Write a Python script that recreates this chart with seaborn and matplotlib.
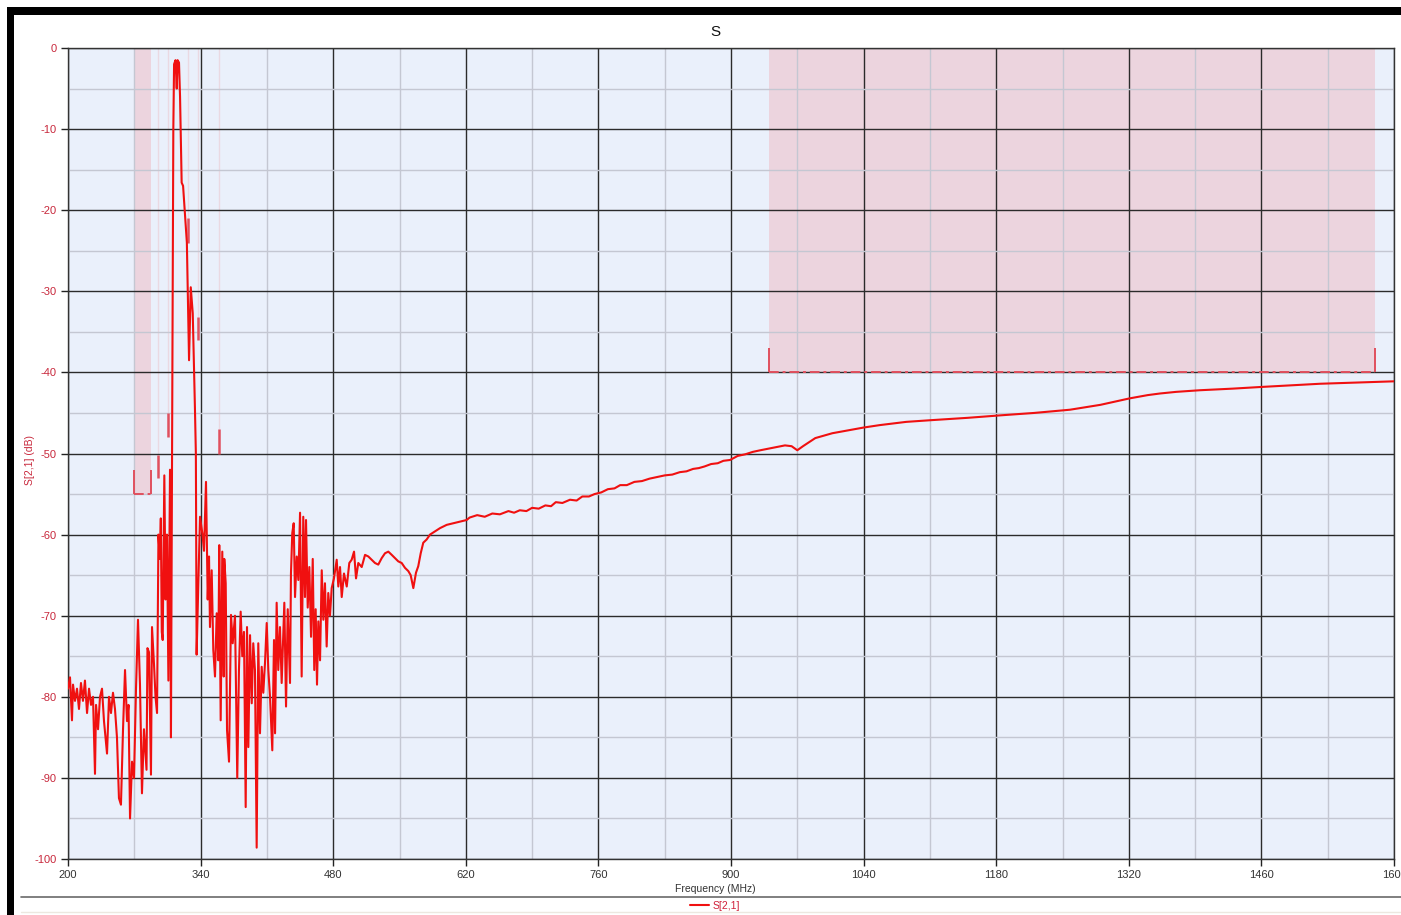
"""S[2,1] sweep with limit masks, redrawn from an analyser screenshot."""
import matplotlib
matplotlib.use("Agg")
import matplotlib.pyplot as plt
from matplotlib.lines import Line2D
from matplotlib.patches import Rectangle
import pandas as pd
import seaborn as sns

# trace (MHz, dB)
freq_mhz = [
    200, 202.1, 204.2, 205.3, 207.4, 209.5, 211.6, 213.7, 215.8, 217.9,
    220.1, 222.2, 224.3, 226.4, 228.5, 229.6, 231.7, 233.8, 235.9, 238.0,
    241.2, 243.3, 245.4, 247.5, 249.6, 251.7, 253.8, 255.9, 258.1, 260.2,
    262.3, 263.9, 265.5, 267.6, 269.7, 271.8, 273.9, 276.0, 278.1, 280.2,
    281.3, 282.9, 283.9, 285.5, 287.6, 288.7, 290.8, 292.4, 294.0, 295.5,
    297.0, 298.0, 299.0, 300.0, 301.7, 303.0, 304.5, 306.0, 307.7, 308.7,
    311.2, 312.0, 313.5, 314.8, 315.7, 317.2, 318.3, 320.0, 321.5, 325.5,
    327.8, 329.6, 331.7, 334.0, 335.0, 335.8, 337.6, 339.4, 342.0, 343.6,
    345.7, 347.5, 348.9, 349.9, 351.7, 353.4, 355.2, 357.0, 358.7, 359.7,
    361.2, 362.9, 364.4, 365.0, 366.5, 367.9, 370.0, 372.1, 373.9, 376.3,
    378.7, 380.5, 382.3, 384.0, 385.8, 387.6, 389.0, 390.4, 392.2, 394.0,
    395.6, 397.4, 399.2, 400.9, 402.7, 404.5, 406.2, 408.0, 409.8, 411.5,
    413.3, 415.7, 417.5, 418.6, 420.3, 422.0, 423.8, 425.6, 428.4, 430.2,
    432.0, 434.4, 435.4, 436.8, 438.3, 439.7, 441.5, 443.2, 445.0, 446.7,
    448.4, 450.2, 451.3, 453.1, 454.8, 456.6, 458.4, 460.0, 461.5, 462.9,
    464.3, 466.1, 467.9, 469.6, 471.3, 473.1, 474.8, 476.6, 478.4, 480.8,
    483.7, 485.4, 487.2, 489.0, 491.4, 494.3, 497.0, 499.5, 502.0, 504.1,
    506.5, 510.1, 513.6, 517.1, 520.6, 524.1, 527.6, 531.2, 534.7, 538.2,
    541.8, 545.2, 548.7, 552.3, 555.8, 559.3, 561.8, 564.6, 567.4, 569.8,
    572.4, 575.1, 578.7, 582.2, 587.5, 592.8, 599.8, 606.8, 613.9, 620.9,
    624, 632, 640, 648, 656, 665, 671, 677, 684, 690,
    697, 704, 710, 715, 722, 730, 737, 743, 750, 756,
    763, 770, 777, 783, 790, 798, 806, 814, 822, 830,
    838, 846, 853, 860, 866, 872, 879, 886, 892, 899,
    907, 915, 923, 931, 944, 957, 964, 970, 976, 989,
    1007, 1026, 1040, 1057, 1085, 1110, 1150, 1184, 1220, 1258,
    1290, 1321, 1340, 1353, 1370, 1395, 1430, 1459, 1490, 1522,
    1560, 1600,
]
s21_db = [
    -79.0, -77.6, -82.9, -78.5, -80.5, -79.0, -81.5, -78.3, -80.5, -78.0,
    -82.0, -79.0, -81.0, -80.0, -89.5, -81.0, -84.0, -80.0, -79.0, -83.0,
    -87.0, -80.0, -82.0, -79.5, -81.5, -85.0, -92.5, -93.3, -84.0, -76.7,
    -83.0, -81.0, -95.0, -88.0, -90.0, -79.0, -70.5, -78.5, -91.9, -84.0,
    -86.0, -89.0, -74.0, -74.5, -89.6, -71.4, -76.0, -80.0, -82.0, -60.0,
    -63.0, -58.0, -72.0, -73.0, -52.7, -68.0, -60.0, -78.0, -52.0, -85.0,
    -10.0, -2.0, -1.5, -5.0, -1.5, -1.8, -6.0, -16.6, -17.0, -24.0,
    -38.5, -29.5, -32.7, -44.3, -50.0, -74.8, -66.0, -57.8, -60.0, -62.0,
    -53.5, -68.0, -62.7, -71.4, -64.4, -74.2, -77.5, -69.7, -75.5, -61.3,
    -82.9, -62.1, -77.5, -63.0, -66.0, -84.1, -88.0, -69.9, -73.4, -70.0,
    -90.0, -76.7, -69.5, -75.0, -72.0, -93.6, -71.4, -86.2, -72.4, -80.8,
    -73.4, -76.7, -98.6, -73.4, -84.5, -76.3, -79.5, -75.8, -70.9, -76.7,
    -80.0, -86.6, -73.0, -84.5, -68.4, -76.7, -71.4, -78.3, -68.4, -81.2,
    -69.2, -78.3, -64.8, -59.8, -58.6, -67.7, -62.7, -65.6, -57.3, -77.5,
    -57.8, -67.7, -58.2, -69.0, -64.0, -72.6, -63.0, -76.7, -69.2, -78.5,
    -70.7, -75.5, -64.4, -70.5, -66.0, -73.8, -67.2, -70.0, -66.6, -65.4,
    -63.1, -66.4, -64.0, -67.7, -64.8, -66.4, -63.5, -63.1, -62.1, -65.4,
    -63.5, -64.0, -62.5, -62.7, -63.1, -63.5, -63.7, -62.9, -62.3, -62.1,
    -62.5, -62.9, -63.3, -63.5, -64.1, -64.5, -65.0, -66.6, -64.7, -63.9,
    -62.3, -61.0, -60.6, -60.0, -59.6, -59.2, -58.8, -58.6, -58.4, -58.2,
    -57.9, -57.6, -57.8, -57.4, -57.5, -57.1, -57.3, -57.0, -57.1, -56.7,
    -56.8, -56.4, -56.5, -56.0, -56.1, -55.7, -55.8, -55.3, -55.3, -55.0,
    -54.8, -54.4, -54.3, -53.9, -53.9, -53.5, -53.4, -53.1, -52.9, -52.7,
    -52.6, -52.3, -52.2, -51.9, -51.8, -51.6, -51.3, -51.2, -50.9, -50.8,
    -50.3, -50.1, -49.8, -49.6, -49.3, -49.0, -49.1, -49.6, -49.1, -48.1,
    -47.5, -47.1, -46.8, -46.5, -46.1, -45.9, -45.6, -45.3, -45.0, -44.6,
    -44.0, -43.2, -42.8, -42.6, -42.4, -42.2, -42.0, -41.8, -41.6, -41.4,
    -41.25, -41.1,
]

# limit masks: band start / stop (MHz) and the limit level (dB)
mask_start = [270, 940]
mask_stop = [288, 1580]
mask_level = [-55, -40]

# narrow spot limits (single frequency, short limit mark)
spot_mhz = [295, 305.6, 326.7, 337.6, 359.4]
spot_top = [-50.2, -45.0, -21.0, -33.2, -47.0]
spot_bottom = [-53.0, -48.0, -24.0, -36.0, -50.0]

x_ticks = [200, 340, 480, 620, 760, 900, 1040, 1180, 1320, 1460, 1600]
y_ticks = [0, -10, -20, -30, -40, -50, -60, -70, -80, -90, -100]

W, H = 1401, 915
RED = "#f01010"
MASK_RED = "#e0505e"
PINK = "#ecd4de"

sns.set_style("white", {"axes.facecolor": "#eaf0fb"})
plt.rcParams["font.family"] = ["Liberation Sans", "DejaVu Sans"]

fig = plt.figure(figsize=(W / 100, H / 100), dpi=100)
ax = fig.add_axes([68 / W, 1 - 859 / H, (1394 - 68) / W, (859 - 48) / H])

df = pd.DataFrame({"freq": freq_mhz, "s21": s21_db})

# mask areas and their limit lines
for start, stop, level in zip(mask_start, mask_stop, mask_level):
    ax.fill_between([start, stop], level, 0, color=PINK, lw=0, zorder=0.4)
    ax.hlines(level, start, stop, color=MASK_RED, lw=1.4,
              linestyles=[(0, (5, 2, 1.5, 2))], zorder=2)
    ax.vlines([start, stop], level, level + 3, color=MASK_RED, lw=1.4, zorder=2)

ax.vlines(spot_mhz, spot_top, 0, color="#ead9e2", lw=1, zorder=0.45)
ax.vlines(spot_mhz, spot_bottom, spot_top, color=MASK_RED, lw=1.8, zorder=2)

sns.lineplot(data=df, x="freq", y="s21", ax=ax, color=RED, lw=1.5,
             sort=False, estimator=None, label="S[2,1]", zorder=3)

ax.set_xlim(200, 1600)
ax.set_ylim(-100, 0)
ax.set_xticks(x_ticks)
ax.set_xticklabels([str(t) for t in x_ticks])
ax.set_yticks(y_ticks)
ax.set_yticklabels([str(t) for t in y_ticks])
ax.set_xticks([t + 70 for t in x_ticks[:-1]], minor=True)
ax.set_yticks(range(-95, 0, 10), minor=True)

ax.grid(which="major", color="#2b2b2b", lw=1)
ax.grid(which="minor", color="#c4c7d2", lw=1)
ax.set_axisbelow(True)

ax.tick_params(which="major", bottom=True, left=True, direction="out",
               length=5, width=1, color="#222222", labelsize=8, pad=3)
ax.tick_params(which="minor", bottom=False, left=False, length=0)
ax.tick_params(axis="x", labelcolor="#333333")
ax.tick_params(axis="y", labelcolor="#c8283c")
for spine in ax.spines.values():
    spine.set_color("#333333")
    spine.set_linewidth(1)

ax.set_xlabel("Frequency (MHz)", fontsize=7.5, color="#333333")
ax.xaxis.set_label_coords((715 - 68) / (1394 - 68), (859 - 884) / (859 - 48))
ax.set_ylabel("S[2,1] (dB)", fontsize=7.5, color="#c8283c")
ax.yaxis.set_label_coords((35 - 68) / (1394 - 68), (859 - 460) / (859 - 48))

fig.text(715 / W, 1 - 32 / H, "S", ha="center", va="center", fontsize=11,
         color="#111111")

ax.legend(loc="center", bbox_to_anchor=(715 / W, 1 - 906 / H),
          bbox_transform=fig.transFigure, frameon=False, fontsize=7.5,
          handlelength=1.8, handletextpad=0.4, labelcolor="#d0203a")

# screenshot frame: black bands top and left, separators above the legend
fig.add_artist(Rectangle((7 / W, 1 - 15 / H), 1 - 7 / W, 8 / H,
                         transform=fig.transFigure, color="black", lw=0))
fig.add_artist(Rectangle((7 / W, 0), 7 / W, 1 - 7 / H,
                         transform=fig.transFigure, color="black", lw=0))
fig.add_artist(Line2D([21 / W, 1], [1 - 897 / H] * 2, transform=fig.transFigure,
                      color="#6a6a6a", lw=1.2))
fig.add_artist(Line2D([21 / W, 1], [1 - 912 / H] * 2, transform=fig.transFigure,
                      color="#ece8e0", lw=1))

fig.savefig("out.png", dpi=100)
